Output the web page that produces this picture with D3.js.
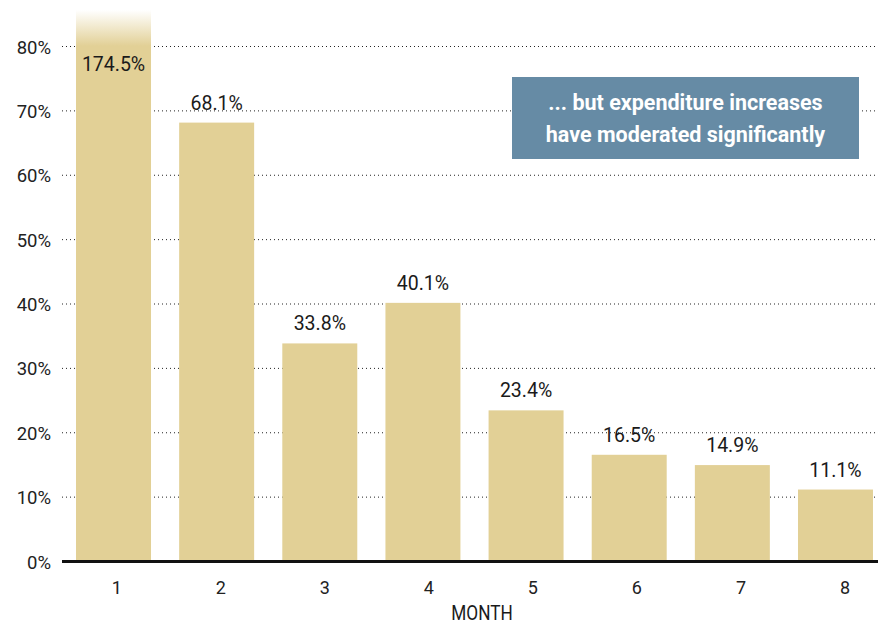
<!DOCTYPE html>
<html><head><meta charset="utf-8">
<script src="https://cdn.jsdelivr.net/npm/d3@7"></script>
<style>body{margin:0;background:#fff;} text{font-family:"Roboto","Liberation Sans",sans-serif;}</style>
</head><body>
<svg id="c" width="878" height="626"></svg>
<script>
const months = ["1","2","3","4","5","6","7","8"];
const values = [174.5, 68.1, 33.8, 40.1, 23.4, 16.5, 14.9, 11.1];
const yTicks = [0,10,20,30,40,50,60,70,80];
const annotation = ["... but expenditure increases","have moderated significantly"];
const axisTitle = "MONTH";

const svg = d3.select("#c");
const W=878,H=626;
const BAR="#E2D096";
const x = d3.scaleBand().domain(months).range([62,887]).paddingInner(0.273).paddingOuter(0.136);
const xLab = d3.scalePoint().domain(months).range([116.7,845]);
const y = d3.scaleLinear().domain([0,80]).range([561,46]);
const topY = 10;

const defs = svg.append("defs");
const g = defs.append("linearGradient").attr("id","fade").attr("x1",0).attr("x2",0)
  .attr("gradientUnits","userSpaceOnUse").attr("y1",topY).attr("y2",46);
g.append("stop").attr("offset",0).attr("stop-color",BAR).attr("stop-opacity",0);
g.append("stop").attr("offset",1).attr("stop-color",BAR).attr("stop-opacity",1);

// gridlines
svg.append("g").selectAll("line").data(yTicks.filter(d=>d>0)).join("line")
  .attr("x1",62).attr("x2",W).attr("y1",d=>y(d)+0.5).attr("y2",d=>y(d)+0.5)
  .attr("stroke","#222").attr("stroke-width",1).attr("stroke-dasharray","1,3");

// y labels
svg.append("g").selectAll("text").data(yTicks).join("text")
  .attr("x",51).attr("y",d=>y(d)+7.5).attr("text-anchor","end")
  .attr("font-size",18.5).attr("fill","#222").text(d=>d+"%");

// bars
const clipped = d => y(d) < topY;
svg.append("g").selectAll("rect").data(values).join("rect")
  .attr("x",(d,i)=>x(months[i])).attr("width",x.bandwidth())
  .attr("y",d=>clipped(d)?topY:y(d)).attr("height",d=>y(0)-(clipped(d)?topY:y(d)))
  .attr("fill",d=>clipped(d)?"url(#fade)":BAR);
svg.append("g").selectAll("rect").data(values.map((v,i)=>({v,i})).filter(o=>clipped(o.v))).join("rect")
  .attr("x",o=>x(months[o.i])).attr("width",x.bandwidth())
  .attr("y",46).attr("height",y(0)-46).attr("fill",BAR);

// value labels
svg.append("g").selectAll("text").data(values).join("text")
  .attr("x",(d,i)=>x(months[i])+x.bandwidth()/2)
  .attr("y",d=>clipped(d)?71:y(d)-13)
  .attr("text-anchor","middle").attr("font-size",19.5).attr("fill","#1a1a1a")
  .text(d=>d.toFixed(1)+"%");

// x axis line
svg.append("line").attr("x1",62).attr("x2",W).attr("y1",y(0)+0.5).attr("y2",y(0)+0.5)
  .attr("stroke","#111").attr("stroke-width",3);

// x labels
svg.append("g").selectAll("text").data(months).join("text")
  .attr("x",d=>xLab(d)).attr("y",593.5)
  .attr("text-anchor","middle").attr("font-size",18).attr("fill","#222").text(d=>d);

svg.append("text").attr("transform","translate(482,620) scale(0.82,1)").attr("text-anchor","middle")
  .attr("font-size",21).attr("fill","#1a1a1a").text(axisTitle);

// annotation
svg.append("rect").attr("x",512).attr("y",77).attr("width",347).attr("height",82).attr("fill","#668BA5");
svg.append("g").selectAll("text").data(annotation).join("text")
  .attr("x",685.5).attr("y",(d,i)=>110+i*31.5).attr("text-anchor","middle")
  .attr("font-size",21.5).attr("font-weight","bold").attr("fill","#fff").text(d=>d);
</script>
</body></html>
